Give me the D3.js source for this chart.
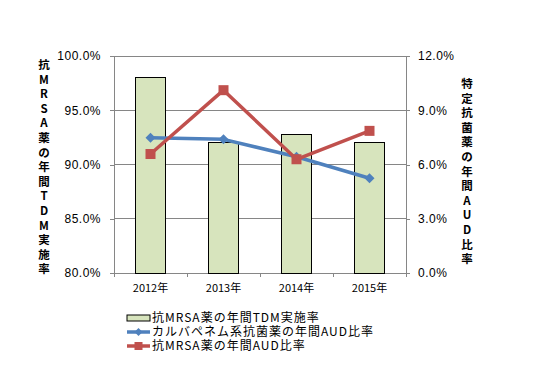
<!DOCTYPE html>
<html>
<head>
<meta charset="utf-8">
<script src="https://cdn.jsdelivr.net/npm/d3@7"></script>
<style>
body { margin: 0; background: #fff; }
</style>
</head>
<body>
<script>
var years = ["2012年", "2013年", "2014年", "2015年"];
var tdmRate = [98.0, 92.0, 92.8, 92.0];
var carbaAud = [7.48, 7.39, 6.43, 5.24];
var mrsaAud = [6.58, 10.11, 6.29, 7.86];
var leftTicks = [80, 85, 90, 95, 100];
var rightTicks = [0, 3, 6, 9, 12];
var legendNames = ["抗MRSA薬の年間TDM実施率", "カルバペネム系抗菌薬の年間AUD比率", "抗MRSA薬の年間AUD比率"];
var leftTitle = "抗MRSA薬の年間TDM実施率";
var rightTitle = "特定抗菌薬の年間AUD比率";

var W = 557, H = 377;
var margin = { top: 56, right: 151, bottom: 104, left: 114 },
    width = W - margin.left - margin.right,
    height = H - margin.top - margin.bottom;

var axisColor = "#868686",
    barFill = "#D7E4BD",
    blue = "#4F81BD",
    red = "#C0504D",
    tickFont = "'Liberation Sans', Arial, sans-serif",
    jpFont = "'Noto Sans CJK JP', sans-serif";

var svg = d3.select("body").append("svg")
    .attr("width", W)
    .attr("height", H)
    .append("g")
    .attr("transform", "translate(" + margin.left + "," + margin.top + ")");

var x = d3.scaleBand().domain(years).range([0, width]).paddingInner(0.6).paddingOuter(0.3);
var xOuter = d3.scaleBand().domain(years).range([0, width]);
var yL = d3.scaleLinear().domain([80, 100]).range([height, 0]);
var yR = d3.scaleLinear().domain([0, 12]).range([height, 0]);

// gridlines
svg.selectAll(".grid")
    .data(leftTicks)
    .enter().append("line")
    .attr("x1", 0).attr("x2", width)
    .attr("y1", function (d) { return yL(d); })
    .attr("y2", function (d) { return yL(d); })
    .attr("stroke", axisColor)
    .attr("stroke-width", 1)
    .attr("shape-rendering", "crispEdges");

// left axis
var leftAxis = svg.append("g")
    .call(d3.axisLeft(yL).tickValues(leftTicks).tickSize(4).tickPadding(9)
        .tickFormat(function (d) { return d.toFixed(1) + "%"; }));
// right axis
var rightAxis = svg.append("g")
    .attr("transform", "translate(" + width + ",0)")
    .call(d3.axisRight(yR).tickValues(rightTicks).tickSize(4).tickPadding(8)
        .tickFormat(function (d) { return d.toFixed(1) + "%"; }));
// bottom axis
var bottomAxis = svg.append("g")
    .attr("transform", "translate(0," + height + ")")
    .call(d3.axisBottom(xOuter).tickSize(0).tickPadding(11));

[leftAxis, rightAxis, bottomAxis].forEach(function (a) {
    a.select(".domain").attr("stroke", axisColor).attr("shape-rendering", "crispEdges");
    a.selectAll(".tick line").attr("stroke", axisColor).attr("shape-rendering", "crispEdges");
    a.selectAll("text").attr("fill", "#000");
});
[leftAxis, rightAxis].forEach(function (a) {
    a.selectAll("text").style("font-family", tickFont).style("font-size", "12px")
        .style("letter-spacing", "0.5px");
});
bottomAxis.selectAll("text").style("font-family", jpFont).style("font-size", "11px");
bottomAxis.select(".domain").attr("d", "M0,0H" + width);

// category boundary ticks
svg.selectAll(".xtick")
    .data(d3.range(years.length + 1))
    .enter().append("line")
    .attr("x1", function (i) { return i * xOuter.step(); })
    .attr("x2", function (i) { return i * xOuter.step(); })
    .attr("y1", height).attr("y2", height + 4)
    .attr("stroke", axisColor)
    .attr("shape-rendering", "crispEdges");

// bars
svg.selectAll(".bar")
    .data(tdmRate)
    .enter().append("rect")
    .attr("x", function (d, i) { return x(years[i]); })
    .attr("y", function (d) { return yL(d); })
    .attr("width", x.bandwidth())
    .attr("height", function (d) { return height - yL(d); })
    .attr("fill", barFill)
    .attr("stroke", "#000")
    .attr("stroke-width", 1)
    .attr("shape-rendering", "crispEdges");

var cx = function (d, i) { return xOuter(years[i]) + xOuter.bandwidth() / 2; };
var line = d3.line().x(cx).y(function (d) { return yR(d); });

function diamond(sel, s) {
    sel.attr("d", "M0,-" + s + "L" + s + ",0L0," + s + "L-" + s + ",0Z");
}

// blue line
svg.append("path")
    .datum(carbaAud)
    .attr("d", line)
    .attr("fill", "none")
    .attr("stroke", blue)
    .attr("stroke-width", 3.5)
    .attr("stroke-linejoin", "round");
svg.selectAll(".dia")
    .data(carbaAud)
    .enter().append("path")
    .attr("transform", function (d, i) { return "translate(" + cx(d, i) + "," + yR(d) + ")"; })
    .call(diamond, 5)
    .attr("fill", blue);

// red line
svg.append("path")
    .datum(mrsaAud)
    .attr("d", line)
    .attr("fill", "none")
    .attr("stroke", red)
    .attr("stroke-width", 3.5)
    .attr("stroke-linejoin", "round");
svg.selectAll(".sq")
    .data(mrsaAud)
    .enter().append("rect")
    .attr("x", function (d, i) { return cx(d, i) - 5; })
    .attr("y", function (d) { return yR(d) - 5; })
    .attr("width", 10).attr("height", 10)
    .attr("fill", red);

// axis titles (stacked vertical characters)
function stackedTitle(str, xPos, yTop) {
    var t = svg.append("text")
        .attr("text-anchor", "middle")
        .style("font-family", jpFont)
        .style("font-size", "11.5px")
        .style("font-weight", "bold");
    t.selectAll("tspan")
        .data(Array.from(str))
        .enter().append("tspan")
        .attr("x", xPos)
        .attr("y", function (d, i) { return yTop + i * 14.6; })
        .text(function (d) { return d; });
}
stackedTitle(leftTitle, 44 - margin.left, 69 - margin.top);
stackedTitle(rightTitle, 467 - margin.left, 88 - margin.top);

// legend
var legend = svg.append("g").attr("transform", "translate(" + (127 - margin.left) + "," + (318 - margin.top) + ")");
var rowH = 14;
legend.append("rect")
    .attr("x", 0).attr("y", -3).attr("width", 23).attr("height", 6)
    .attr("fill", barFill).attr("stroke", "#000").attr("stroke-width", 1);
legend.append("line")
    .attr("x1", 0).attr("x2", 23).attr("y1", rowH).attr("y2", rowH)
    .attr("stroke", blue).attr("stroke-width", 3.5);
legend.append("path")
    .attr("transform", "translate(11.5," + rowH + ")")
    .call(diamond, 4)
    .attr("fill", blue);
legend.append("line")
    .attr("x1", 0).attr("x2", 23).attr("y1", rowH * 2).attr("y2", rowH * 2)
    .attr("stroke", red).attr("stroke-width", 3.5);
legend.append("rect")
    .attr("x", 7.5).attr("y", rowH * 2 - 4).attr("width", 8).attr("height", 8)
    .attr("fill", red);
legend.selectAll(".ltext")
    .data(legendNames)
    .enter().append("text")
    .attr("x", 25)
    .attr("y", function (d, i) { return i * rowH; })
    .attr("dy", "0.35em")
    .style("font-family", jpFont)
    .style("font-size", "12px")
    .style("letter-spacing", "1px")
    .text(function (d) { return d; });
</script>
</body>
</html>
